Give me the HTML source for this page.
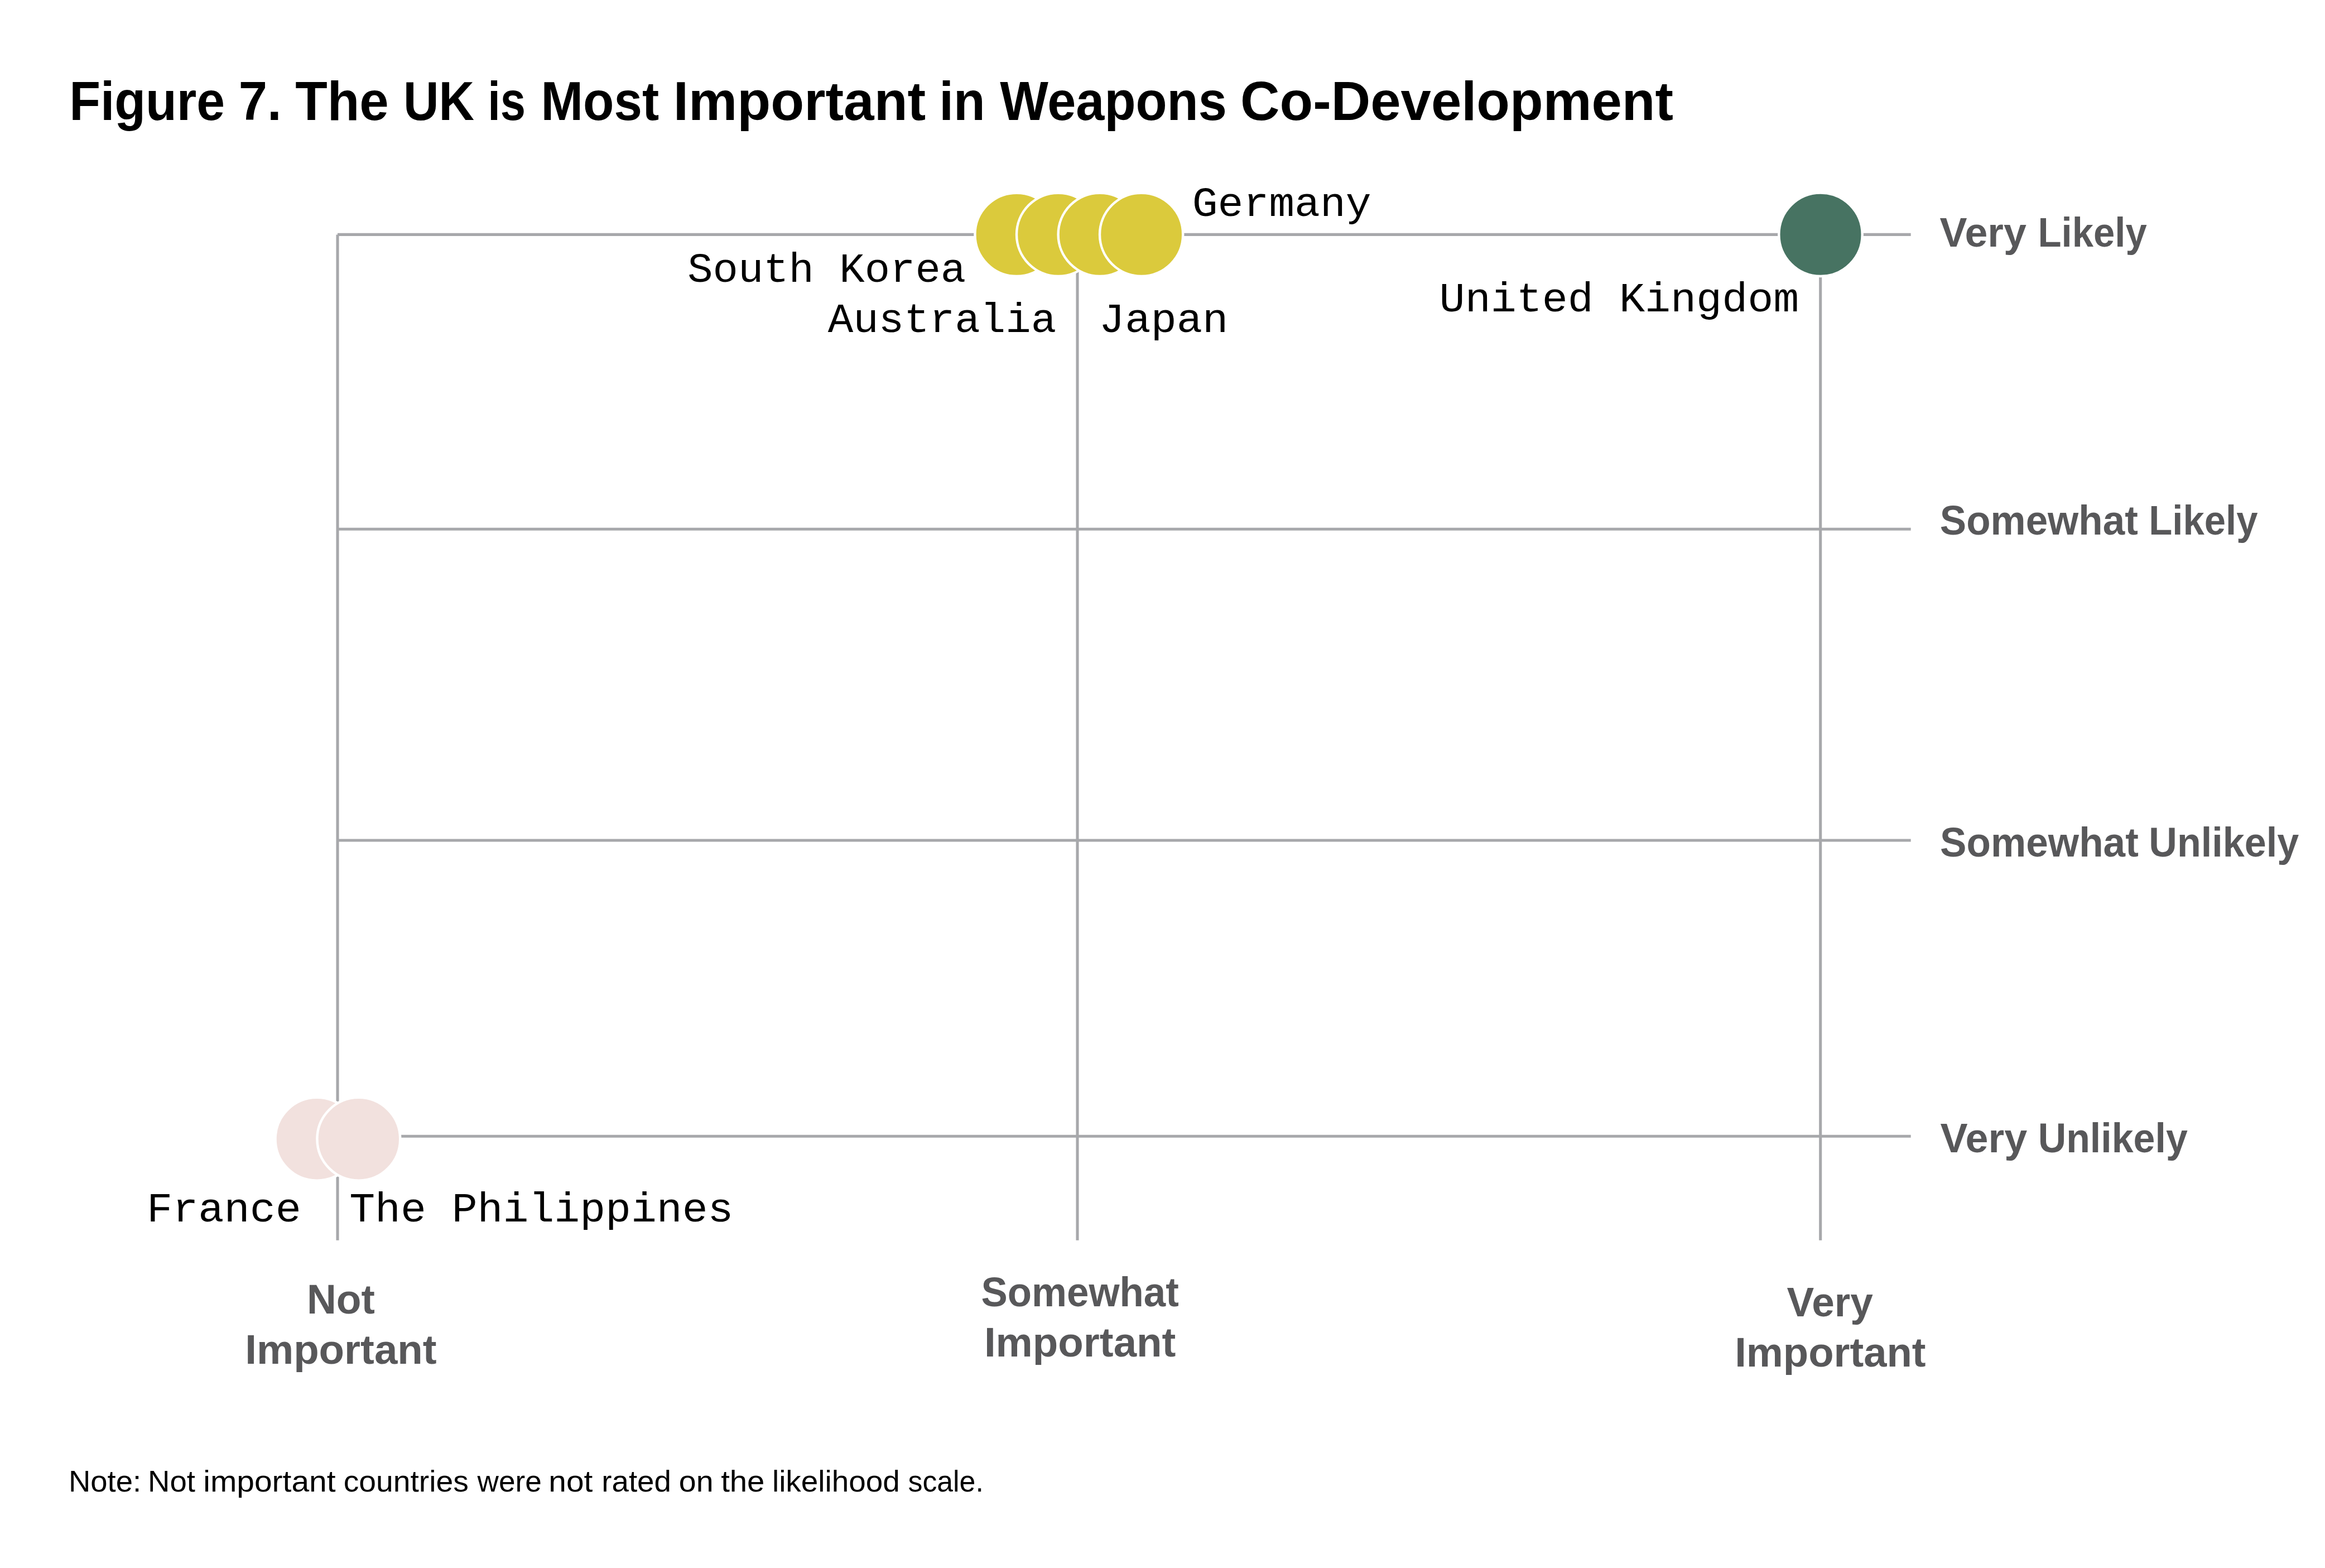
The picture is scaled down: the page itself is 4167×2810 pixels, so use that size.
<!DOCTYPE html>
<html><head><meta charset="utf-8"><title>Figure 7</title>
<style>
html,body{margin:0;padding:0;background:#fff;}
body{width:4167px;height:2810px;overflow:hidden;font-family:"Liberation Sans", sans-serif;}
svg{display:block;}
</style></head>
<body>
<svg width="4167" height="2810" viewBox="0 0 4167 2810">
<rect width="4167" height="2810" fill="#fff"/>
<line x1="605.0" y1="420.4" x2="3424.7" y2="420.4" stroke="#a7a8ab" stroke-width="5.1"/>
<line x1="605.0" y1="948.2" x2="3424.7" y2="948.2" stroke="#a7a8ab" stroke-width="5.1"/>
<line x1="605.0" y1="1506.0" x2="3424.7" y2="1506.0" stroke="#a7a8ab" stroke-width="5.1"/>
<line x1="605.0" y1="2036.3" x2="3424.7" y2="2036.3" stroke="#a7a8ab" stroke-width="5.1"/>
<line x1="605.0" y1="420.4" x2="605.0" y2="2222.7" stroke="#a7a8ab" stroke-width="5.1"/>
<line x1="1931.0" y1="420.4" x2="1931.0" y2="2222.7" stroke="#a7a8ab" stroke-width="5.1"/>
<line x1="3262.7" y1="420.4" x2="3262.7" y2="2222.7" stroke="#a7a8ab" stroke-width="5.1"/>
<circle cx="1822.0" cy="420.3" r="74.60" fill="#dbca3c" stroke="#fff" stroke-width="4.4"/>
<circle cx="1896.6" cy="420.3" r="74.60" fill="#dbca3c" stroke="#fff" stroke-width="4.4"/>
<circle cx="1971.2" cy="420.3" r="74.60" fill="#dbca3c" stroke="#fff" stroke-width="4.4"/>
<circle cx="2045.6" cy="420.3" r="74.60" fill="#dbca3c" stroke="#fff" stroke-width="4.4"/>
<circle cx="3263.0" cy="420.3" r="74.70" fill="#477362" stroke="#fff" stroke-width="4.4"/>
<circle cx="567.9" cy="2041.3" r="74.40" fill="#f2e1de" stroke="#fff" stroke-width="4.4"/>
<circle cx="642.8" cy="2041.3" r="74.40" fill="#f2e1de" stroke="#fff" stroke-width="4.4"/>
<text x="2136.68" y="386.60" font-family='"Liberation Mono", monospace' font-weight="400" font-size="75.00" fill="#000" textLength="321.05" lengthAdjust="spacingAndGlyphs">Germany</text>
<text x="1232.18" y="505.00" font-family='"Liberation Mono", monospace' font-weight="400" font-size="75.00" fill="#000" textLength="498.96" lengthAdjust="spacingAndGlyphs">South Korea</text>
<text x="2579.58" y="558.40" font-family='"Liberation Mono", monospace' font-weight="400" font-size="75.00" fill="#000" textLength="644.76" lengthAdjust="spacingAndGlyphs">United Kingdom</text>
<text x="1483.80" y="595.40" font-family='"Liberation Mono", monospace' font-weight="400" font-size="75.00" fill="#000" textLength="409.35" lengthAdjust="spacingAndGlyphs">Australia</text>
<text x="1969.87" y="595.40" font-family='"Liberation Mono", monospace' font-weight="400" font-size="75.00" fill="#000" textLength="231.41" lengthAdjust="spacingAndGlyphs">Japan</text>
<text x="263.01" y="2189.10" font-family='"Liberation Mono", monospace' font-weight="400" font-size="75.00" fill="#000" textLength="276.96" lengthAdjust="spacingAndGlyphs">France</text>
<text x="626.16" y="2189.10" font-family='"Liberation Mono", monospace' font-weight="400" font-size="75.00" fill="#000" textLength="688.35" lengthAdjust="spacingAndGlyphs">The Philippines</text>
<text x="3476.41" y="441.90" font-family='"Liberation Sans", sans-serif' font-weight="700" font-size="75.00" fill="#58585a" textLength="155.48" lengthAdjust="spacingAndGlyphs">Very</text>
<text x="3652.49" y="441.90" font-family='"Liberation Sans", sans-serif' font-weight="700" font-size="75.00" fill="#58585a" textLength="195.28" lengthAdjust="spacingAndGlyphs">Likely</text>
<text x="3476.86" y="957.50" font-family='"Liberation Sans", sans-serif' font-weight="700" font-size="75.00" fill="#58585a" textLength="354.91" lengthAdjust="spacingAndGlyphs">Somewhat</text>
<text x="3851.29" y="957.50" font-family='"Liberation Sans", sans-serif' font-weight="700" font-size="75.00" fill="#58585a" textLength="195.18" lengthAdjust="spacingAndGlyphs">Likely</text>
<text x="3477.05" y="1535.40" font-family='"Liberation Sans", sans-serif' font-weight="700" font-size="75.00" fill="#58585a" textLength="355.82" lengthAdjust="spacingAndGlyphs">Somewhat</text>
<text x="3851.29" y="1535.40" font-family='"Liberation Sans", sans-serif' font-weight="700" font-size="75.00" fill="#58585a" textLength="268.89" lengthAdjust="spacingAndGlyphs">Unlikely</text>
<text x="3477.51" y="2065.00" font-family='"Liberation Sans", sans-serif' font-weight="700" font-size="75.00" fill="#58585a" textLength="155.68" lengthAdjust="spacingAndGlyphs">Very</text>
<text x="3652.70" y="2065.00" font-family='"Liberation Sans", sans-serif' font-weight="700" font-size="75.00" fill="#58585a" textLength="268.07" lengthAdjust="spacingAndGlyphs">Unlikely</text>
<text x="549.91" y="2353.80" font-family='"Liberation Sans", sans-serif' font-weight="700" font-size="75.00" fill="#58585a" textLength="121.89" lengthAdjust="spacingAndGlyphs">Not</text>
<text x="439.22" y="2444.10" font-family='"Liberation Sans", sans-serif' font-weight="700" font-size="75.00" fill="#58585a" textLength="343.39" lengthAdjust="spacingAndGlyphs">Important</text>
<text x="1758.46" y="2340.90" font-family='"Liberation Sans", sans-serif' font-weight="700" font-size="75.00" fill="#58585a" textLength="354.31" lengthAdjust="spacingAndGlyphs">Somewhat</text>
<text x="1763.92" y="2431.10" font-family='"Liberation Sans", sans-serif' font-weight="700" font-size="75.00" fill="#58585a" textLength="343.49" lengthAdjust="spacingAndGlyphs">Important</text>
<text x="3202.51" y="2358.90" font-family='"Liberation Sans", sans-serif' font-weight="700" font-size="75.00" fill="#58585a" textLength="154.27" lengthAdjust="spacingAndGlyphs">Very</text>
<text x="3109.13" y="2449.00" font-family='"Liberation Sans", sans-serif' font-weight="700" font-size="75.00" fill="#58585a" textLength="342.48" lengthAdjust="spacingAndGlyphs">Important</text>
<text x="124.19" y="214.80" font-family='"Liberation Sans", sans-serif' font-weight="700" font-size="97.82" fill="#000" textLength="278.93" lengthAdjust="spacingAndGlyphs">Figure</text>
<text x="427.74" y="214.80" font-family='"Liberation Sans", sans-serif' font-weight="700" font-size="97.82" fill="#000" textLength="76.91" lengthAdjust="spacingAndGlyphs">7.</text>
<text x="529.24" y="214.80" font-family='"Liberation Sans", sans-serif' font-weight="700" font-size="97.82" fill="#000" textLength="167.38" lengthAdjust="spacingAndGlyphs">The</text>
<text x="723.12" y="214.80" font-family='"Liberation Sans", sans-serif' font-weight="700" font-size="97.82" fill="#000" textLength="126.89" lengthAdjust="spacingAndGlyphs">UK</text>
<text x="874.22" y="214.80" font-family='"Liberation Sans", sans-serif' font-weight="700" font-size="97.82" fill="#000" textLength="67.81" lengthAdjust="spacingAndGlyphs">is</text>
<text x="969.53" y="214.80" font-family='"Liberation Sans", sans-serif' font-weight="700" font-size="97.82" fill="#000" textLength="211.57" lengthAdjust="spacingAndGlyphs">Most</text>
<text x="1206.84" y="214.80" font-family='"Liberation Sans", sans-serif' font-weight="700" font-size="97.82" fill="#000" textLength="452.46" lengthAdjust="spacingAndGlyphs">Important</text>
<text x="1683.32" y="214.80" font-family='"Liberation Sans", sans-serif' font-weight="700" font-size="97.82" fill="#000" textLength="82.43" lengthAdjust="spacingAndGlyphs">in</text>
<text x="1792.31" y="214.80" font-family='"Liberation Sans", sans-serif' font-weight="700" font-size="97.82" fill="#000" textLength="406.44" lengthAdjust="spacingAndGlyphs">Weapons</text>
<text x="2223.09" y="214.80" font-family='"Liberation Sans", sans-serif' font-weight="700" font-size="97.82" fill="#000" textLength="775.90" lengthAdjust="spacingAndGlyphs">Co-Development</text>
<text x="123.04" y="2673.20" font-family='"Liberation Sans", sans-serif' font-weight="400" font-size="54.00" fill="#000" textLength="130.03" lengthAdjust="spacingAndGlyphs">Note:</text>
<text x="265.03" y="2673.20" font-family='"Liberation Sans", sans-serif' font-weight="400" font-size="54.00" fill="#000" textLength="84.87" lengthAdjust="spacingAndGlyphs">Not</text>
<text x="364.29" y="2673.20" font-family='"Liberation Sans", sans-serif' font-weight="400" font-size="54.00" fill="#000" textLength="237.22" lengthAdjust="spacingAndGlyphs">important</text>
<text x="615.75" y="2673.20" font-family='"Liberation Sans", sans-serif' font-weight="400" font-size="54.00" fill="#000" textLength="224.14" lengthAdjust="spacingAndGlyphs">countries</text>
<text x="855.58" y="2673.20" font-family='"Liberation Sans", sans-serif' font-weight="400" font-size="54.00" fill="#000" textLength="115.08" lengthAdjust="spacingAndGlyphs">were</text>
<text x="983.33" y="2673.20" font-family='"Liberation Sans", sans-serif' font-weight="400" font-size="54.00" fill="#000" textLength="78.99" lengthAdjust="spacingAndGlyphs">not</text>
<text x="1078.27" y="2673.20" font-family='"Liberation Sans", sans-serif' font-weight="400" font-size="54.00" fill="#000" textLength="124.66" lengthAdjust="spacingAndGlyphs">rated</text>
<text x="1216.87" y="2673.20" font-family='"Liberation Sans", sans-serif' font-weight="400" font-size="54.00" fill="#000" textLength="61.74" lengthAdjust="spacingAndGlyphs">on</text>
<text x="1292.15" y="2673.20" font-family='"Liberation Sans", sans-serif' font-weight="400" font-size="54.00" fill="#000" textLength="78.25" lengthAdjust="spacingAndGlyphs">the</text>
<text x="1384.00" y="2673.20" font-family='"Liberation Sans", sans-serif' font-weight="400" font-size="54.00" fill="#000" textLength="228.73" lengthAdjust="spacingAndGlyphs">likelihood</text>
<text x="1627.56" y="2673.20" font-family='"Liberation Sans", sans-serif' font-weight="400" font-size="54.00" fill="#000" textLength="135.27" lengthAdjust="spacingAndGlyphs">scale.</text>
</svg>
</body></html>
